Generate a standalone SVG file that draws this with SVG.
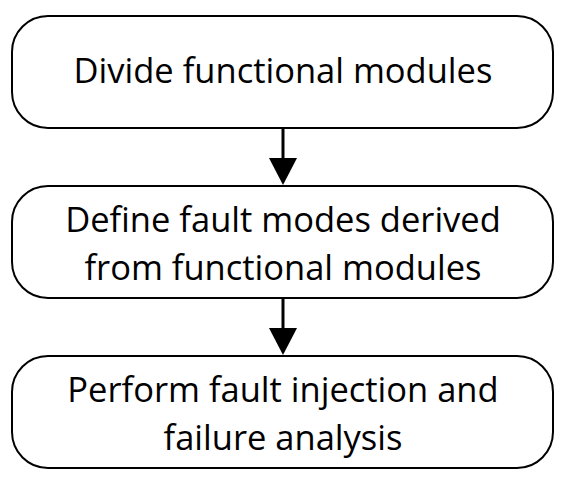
<svg xmlns="http://www.w3.org/2000/svg" width="567" height="490" viewBox="0 0 567 490">
<defs>
<style>
.box{fill:#fff;stroke:#000;stroke-width:2}
.t{font-family:"Open Sans","Liberation Sans",sans-serif;font-size:34.5px;fill:#000;text-anchor:middle}
.c{stroke:#000;stroke-width:3;fill:none}
.h{fill:#000}
</style>
</defs>
<rect width="567" height="490" fill="#fff"/>
<g id="n1">
<rect class="box" x="12" y="16" width="541" height="112" rx="36"/>
<text class="t" x="283" y="83">Divide functional modules</text>
</g>
<g id="n2">
<rect class="box" x="12" y="186" width="541" height="112" rx="36"/>
<text class="t" x="283" y="232">Define fault modes derived</text>
<text class="t" x="283" y="280">from functional modules</text>
</g>
<g id="n3">
<rect class="box" x="12" y="356" width="541" height="112" rx="36"/>
<text class="t" x="283" y="402">Perform fault injection and</text>
<text class="t" x="283" y="450">failure analysis</text>
</g>
<g id="connectors">
<line class="c" x1="283" y1="128" x2="283" y2="162"/>
<path class="h" d="M269,158 L297,158 L283,185 Z"/>
<line class="c" x1="283" y1="298" x2="283" y2="332"/>
<path class="h" d="M269,328 L297,328 L283,355 Z"/>
</g>
</svg>
